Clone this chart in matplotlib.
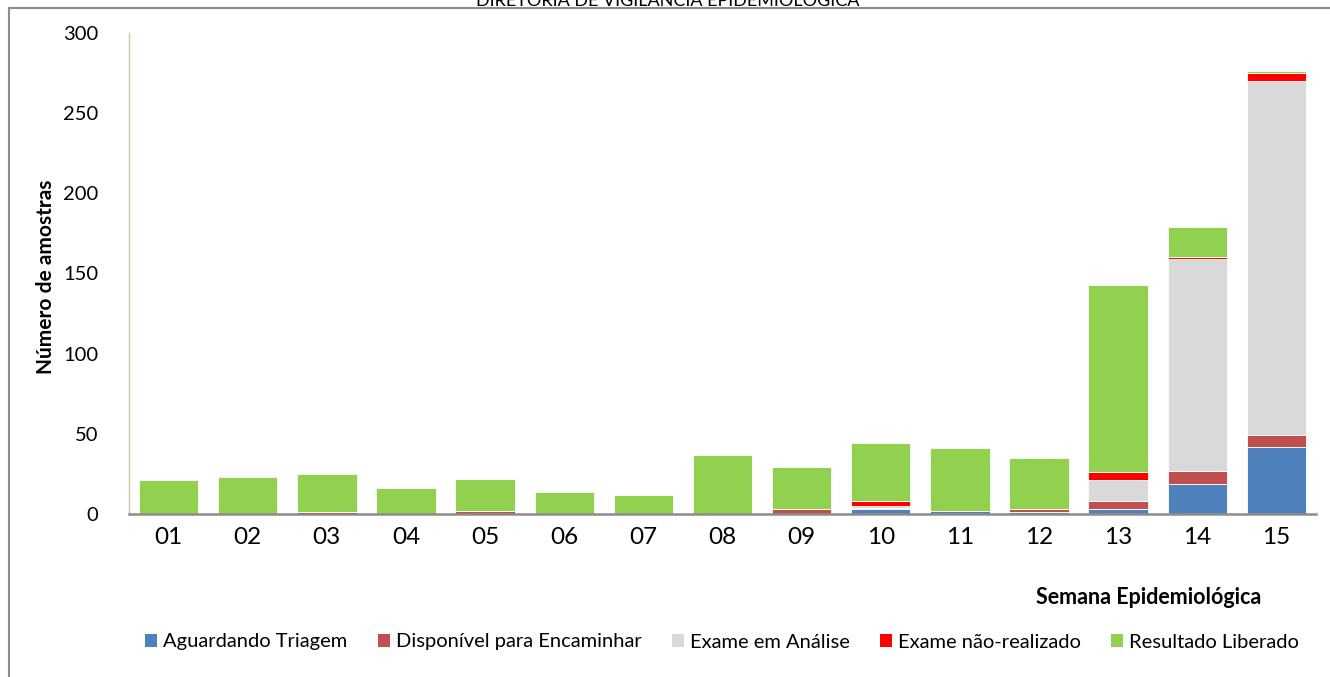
import matplotlib
matplotlib.use("Agg")
import matplotlib.pyplot as plt
from matplotlib.patches import Patch
from matplotlib.lines import Line2D
import numpy as np

plt.rcParams['font.family'] = ['Lato', 'DejaVu Sans']

weeks = ["01", "02", "03", "04", "05", "06", "07", "08", "09", "10", "11", "12", "13", "14", "15"]
series_names = ["Aguardando Triagem", "Disponível para Encaminhar", "Exame em Análise",
                "Exame não-realizado", "Resultado Liberado"]
aguardando = [0, 0, 0, 0, 0, 0, 0, 0, 0, 3, 2, 1, 3, 19, 42]
disponivel = [0, 0, 0, 0, 2, 0, 0, 0, 3, 1, 0, 2, 5, 8, 7]
analise = [0, 0, 0, 0, 0, 0, 0, 0, 0, 1, 0, 0, 13, 132, 221]
nao_realizado = [0, 0, 1, 0, 0, 0, 0, 0, 0, 3, 0, 0, 5, 1, 5]
liberado = [21, 23, 24, 16, 20, 14, 12, 37, 26, 36, 39, 32, 117, 19, 1]
colors = ["#4F81BD", "#C0504D", "#D9D9D9", "#FF0000", "#92D050"]

fig = plt.figure(figsize=(13.3, 6.77), dpi=100)
ax = fig.add_axes([129/1330, 1-514/677, (1316-129)/1330, (514-32.7)/677])

x = np.arange(len(weeks))
bottom = np.zeros(len(weeks))
for vals, c in zip([aguardando, disponivel, analise, nao_realizado, liberado], colors):
    v = np.array(vals, dtype=float)
    ax.bar(x, v, width=0.75, bottom=bottom, color=c, edgecolor="white", linewidth=0.6)
    bottom += v

ax.set_xlim(-0.5, len(weeks) - 0.5)
ax.set_ylim(0, 300)
ax.set_yticks([0, 50, 100, 150, 200, 250, 300])
ax.set_xticks(x)
ax.set_xticklabels(weeks, fontsize=17.5)
ax.tick_params(axis='y', labelsize=14.5, length=0, pad=22)
ax.tick_params(axis='x', length=0, pad=9)
for s in ["top", "right"]:
    ax.spines[s].set_visible(False)
ax.spines["left"].set_color("#D0C8A8")
ax.spines["left"].set_linewidth(1.0)
ax.spines["bottom"].set_color("#8C8C8C")
ax.spines["bottom"].set_linewidth(1.8)

fig.text(46/1330, 1-277/677, "Número de amostras", rotation=90, fontsize=15,
         fontweight="bold", ha="center", va="center")
fig.text(1149/1330, 1-597/677, "Semana Epidemiológica", fontsize=15.5,
         fontweight="bold", ha="center", va="center")

fig.text(668/1330, 1-1/677, "DIRETORIA DE VIGILÂNCIA EPIDEMIOLÓGICA", fontsize=13,
         ha="center", va="center")

handles = [Patch(facecolor=c, edgecolor="none") for c in colors]
fig.legend(handles, series_names, loc="center", bbox_to_anchor=(722/1330, 1-642/677),
           ncol=5, frameon=False, fontsize=14.5, handlelength=0.6, handleheight=0.6,
           handletextpad=0.3, columnspacing=1.5)

# outer chart frame
fig.add_artist(Line2D([9/1330, 9/1330], [0, 1-7.5/677], transform=fig.transFigure,
                      color="#8C8C8C", linewidth=1.5))
fig.add_artist(Line2D([9/1330, 1], [1-7.5/677, 1-7.5/677], transform=fig.transFigure,
                      color="#8C8C8C", linewidth=1.5))

fig.savefig("out.png", dpi=100)
